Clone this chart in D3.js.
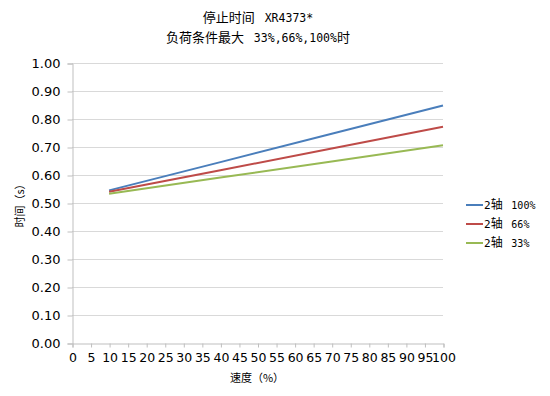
<!DOCTYPE html>
<html>
<head>
<meta charset="utf-8">
<script src="https://cdn.jsdelivr.net/npm/d3@7"></script>
<style>
  body { margin: 0; background: #fff; }
  text { fill: #000; }
</style>
</head>
<body>
<div id="chart"></div>
<script>
// data
const speeds = [10, 40, 70, 100];
const axle100 = [0.545, 0.646, 0.747, 0.848];
const axle66 = [0.540, 0.617, 0.695, 0.772];
const axle33 = [0.533, 0.591, 0.648, 0.706];
const seriesNames = ["100%", "66%", "33%"];
const seriesColors = ["#4a7ebb", "#be4b48", "#98b954"];
const xTicks = d3.range(0, 101, 5);
const yTicks = d3.range(0, 1.0001, 0.1);

const W = 550, H = 396;
const margin = {top: 63, left: 72, right: 107, bottom: 53};
const cjk = "'Noto Sans CJK SC', sans-serif";
const mono = "'DejaVu Sans Mono', monospace";

const svg = d3.select("#chart").append("svg")
  .attr("width", W).attr("height", H);

const x = d3.scaleLinear().domain([0, 100]).range([margin.left, W - margin.right]);
const y = d3.scaleLinear().domain([0, 1]).range([H - margin.bottom, margin.top]);

// title: CJK and latin parts in different fonts
const title = svg.append("text")
  .attr("text-anchor", "middle")
  .style("font-family", cjk)
  .style("font-size", "13px")
  .style("white-space", "pre");
const t1 = title.append("tspan").attr("x", 258).attr("y", 22);
t1.append("tspan").text("停止时间 ");
t1.append("tspan").style("font-family", mono).style("font-size", "11.5px").text(" XR4373*");
const t2 = title.append("tspan").attr("x", 258).attr("y", 42);
t2.append("tspan").text("负荷条件最大 ");
t2.append("tspan").style("font-family", mono).style("font-size", "11.5px").text(" 33%,66%,100%");
t2.append("tspan").text("时");

// gridlines
svg.append("g")
  .selectAll("line")
  .data(yTicks.filter(d => d > 0))
  .join("line")
  .attr("x1", margin.left).attr("x2", x(100))
  .attr("y1", d => Math.round(y(d)) + 0.5).attr("y2", d => Math.round(y(d)) + 0.5)
  .attr("stroke", "#d9d9d9");

// y axis
const yAxis = svg.append("g")
  .attr("transform", `translate(${margin.left + 0.5},0.5)`)
  .call(d3.axisLeft(y).tickValues(yTicks).tickFormat(d3.format(".2f")).tickSize(5).tickPadding(7));
yAxis.select(".domain").attr("stroke", "#bfbfbf");
yAxis.selectAll(".tick line").attr("stroke", "#bfbfbf");
yAxis.selectAll("text")
  .style("font-family", "'DejaVu Sans', Verdana, sans-serif")
  .style("font-size", "13px");

// x axis
const xAxis = svg.append("g")
  .attr("transform", `translate(0.5,${Math.round(y(0)) + 0.5})`)
  .call(d3.axisBottom(x).tickValues(xTicks).tickSize(4).tickPadding(6));
xAxis.select(".domain").attr("stroke", "#bfbfbf");
xAxis.selectAll(".tick line").attr("stroke", "#bfbfbf");
xAxis.selectAll("text")
  .style("font-family", "'DejaVu Sans', Verdana, sans-serif")
  .style("font-size", "12.5px");

// axis titles
svg.append("text")
  .attr("transform", `translate(24,${(margin.top + H - margin.bottom) / 2}) rotate(-90)`)
  .attr("text-anchor", "middle")
  .style("font-family", cjk)
  .style("font-size", "11px")
  .text("时间（s）");

svg.append("text")
  .attr("x", 257).attr("y", 382)
  .attr("text-anchor", "middle")
  .style("font-family", cjk)
  .style("font-size", "11px")
  .text("速度（%）");

// lines
const series = [axle100, axle66, axle33];
const line = d3.line().x((d, i) => x(speeds[i])).y(d => y(d));
svg.append("g")
  .selectAll("path")
  .data(series)
  .join("path")
  .attr("d", line)
  .attr("fill", "none")
  .attr("stroke", (d, i) => seriesColors[i])
  .attr("stroke-width", 2);

// legend
const legend = svg.append("g")
  .selectAll("g")
  .data(seriesNames)
  .join("g")
  .attr("transform", (d, i) => `translate(466,${205 + i * 19})`);
legend.append("line")
  .attr("x1", 0).attr("x2", 17)
  .attr("stroke", (d, i) => seriesColors[i])
  .attr("stroke-width", 2);
const lt = legend.append("text")
  .attr("x", 18).attr("dy", "0.35em")
  .style("font-family", cjk)
  .style("font-size", "12px")
  .style("white-space", "pre");
lt.append("tspan").style("font-family", mono).style("font-size", "11px").text("2");
lt.append("tspan").text("轴 ");
lt.append("tspan").style("font-family", mono).style("font-size", "10px").text(d => " " + d);
</script>
</body>
</html>
